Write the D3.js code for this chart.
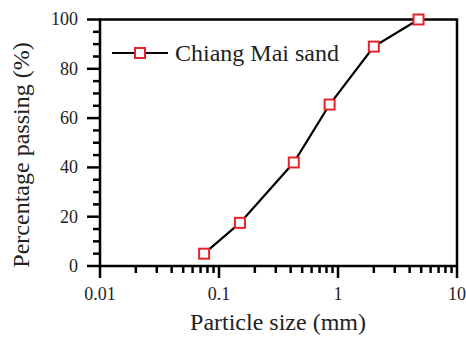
<!DOCTYPE html>
<html>
<head>
<meta charset="utf-8">
<script src="https://cdn.jsdelivr.net/npm/d3@7"></script>
<style>
  html, body { margin: 0; padding: 0; background: #fff; }
  svg { display: block; }
</style>
</head>
<body>
<svg id="chart" width="466" height="337"></svg>
<script>
// Grain size distribution of Chiang Mai sand
const particleSize = [0.075, 0.15, 0.425, 0.85, 2.0, 4.75];   // mm
const percentPassing = [5, 17.5, 42, 65.5, 89, 100];          // %
const seriesName = "Chiang Mai sand";
const xTickValues = [0.01, 0.1, 1, 10];
const xTickLabels = ["0.01", "0.1", "1", "10"];
const yTickValues = [0, 20, 40, 60, 80, 100];

const FONT = "'Liberation Serif', 'Times New Roman', serif";
const svg = d3.select("#chart");
const W = 466, H = 337;
const margin = { left: 100, right: 9, top: 19.5, bottom: 71 };

const x = d3.scaleLog().domain([0.01, 10]).range([margin.left, W - margin.right]);
const y = d3.scaleLinear().domain([0, 100]).range([H - margin.bottom, margin.top]);

const ink = "#000";
const markerColor = "#e3242b";

// minor tick positions
const xMinor = [];
[0.01, 0.1, 1].forEach(d => { for (let k = 2; k <= 9; k++) xMinor.push(d * k); });
const yMinor = d3.range(0, 101, 5).filter(v => v % 20 !== 0);

const axes = svg.append("g");
const tick = (sel) => sel.attr("stroke", ink).attr("stroke-width", 2.5).attr("stroke-linecap", "butt");

// x ticks (outward, below)
axes.selectAll("line.xminor").data(xMinor).join("line").attr("class", "xminor")
  .attr("x1", d => x(d)).attr("x2", d => x(d)).attr("y1", y(0)).attr("y2", y(0) + 7).call(tick);
axes.selectAll("line.xmajor").data(xTickValues).join("line").attr("class", "xmajor")
  .attr("x1", d => x(d)).attr("x2", d => x(d)).attr("y1", y(0)).attr("y2", y(0) + 12).call(tick);

// y ticks (outward, left)
axes.selectAll("line.yminor").data(yMinor).join("line").attr("class", "yminor")
  .attr("x1", x(0.01) - 7).attr("x2", x(0.01)).attr("y1", d => y(d)).attr("y2", d => y(d)).call(tick);
axes.selectAll("line.ymajor").data(yTickValues).join("line").attr("class", "ymajor")
  .attr("x1", x(0.01) - 13).attr("x2", x(0.01)).attr("y1", d => y(d)).attr("y2", d => y(d)).call(tick);

// frame
axes.append("rect")
  .attr("x", x(0.01)).attr("y", y(100))
  .attr("width", x(10) - x(0.01)).attr("height", y(0) - y(100))
  .attr("fill", "none").attr("stroke", ink).attr("stroke-width", 2.5);

// tick labels
svg.append("g").selectAll("text").data(xTickValues).join("text")
  .attr("x", d => x(d)).attr("y", 300)
  .attr("text-anchor", "middle").attr("font-family", FONT).attr("font-size", 18).attr("fill", "#222")
  .text((d, i) => xTickLabels[i]);
svg.append("g").selectAll("text").data(yTickValues).join("text")
  .attr("x", 78).attr("y", d => y(d)).attr("dy", "0.33em")
  .attr("text-anchor", "end").attr("font-family", FONT).attr("font-size", 18).attr("fill", "#222")
  .text(d => d);

// axis titles
svg.append("text").attr("x", (x(0.01) + x(10)) / 2 - 0.5).attr("y", 330)
  .attr("text-anchor", "middle").attr("font-family", FONT).attr("font-size", 24).attr("fill", "#222")
  .text("Particle size (mm)");
svg.append("text").attr("transform", `translate(29,155) rotate(-90)`)
  .attr("text-anchor", "middle").attr("font-family", FONT).attr("font-size", 24).attr("fill", "#222")
  .text("Percentage passing (%)");

// data line and markers
const pts = particleSize.map((d, i) => [d, percentPassing[i]]);
svg.append("path").datum(pts)
  .attr("d", d3.line().x(d => x(d[0])).y(d => y(d[1])))
  .attr("fill", "none").attr("stroke", ink).attr("stroke-width", 2.2);

const ms = 10;
svg.append("g").selectAll("rect").data(pts).join("rect")
  .attr("x", d => x(d[0]) - ms / 2).attr("y", d => y(d[1]) - ms / 2)
  .attr("width", ms).attr("height", ms)
  .attr("fill", "#fff").attr("stroke", markerColor).attr("stroke-width", 2);

// legend
const lg = svg.append("g");
lg.append("line").attr("x1", 112).attr("x2", 168).attr("y1", 53).attr("y2", 53)
  .attr("stroke", ink).attr("stroke-width", 2.2);
lg.append("rect").attr("x", 140 - ms / 2).attr("y", 53 - ms / 2).attr("width", ms).attr("height", ms)
  .attr("fill", "#fff").attr("stroke", markerColor).attr("stroke-width", 2);
lg.append("text").attr("x", 175).attr("y", 60.5)
  .attr("font-family", FONT).attr("font-size", 24).attr("fill", "#222").text(seriesName);
</script>
</body>
</html>
